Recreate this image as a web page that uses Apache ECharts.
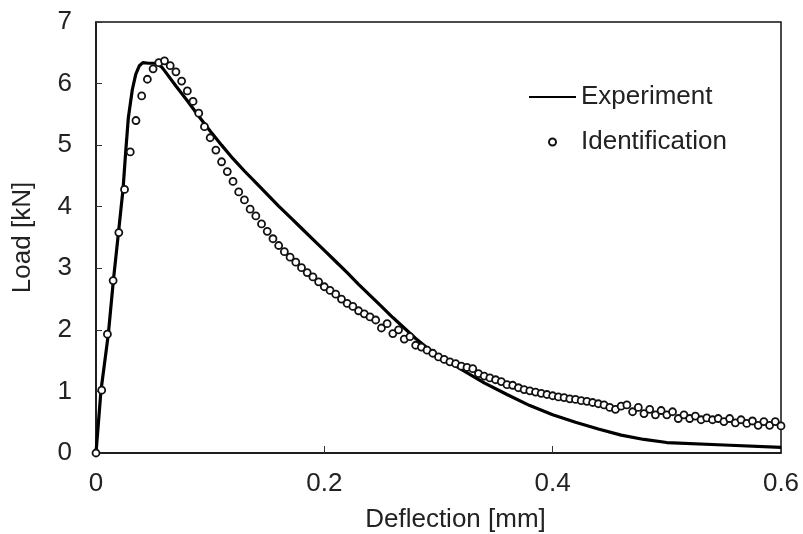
<!DOCTYPE html>
<html>
<head>
<meta charset="utf-8">
<script src="https://cdn.jsdelivr.net/npm/echarts@6/dist/echarts.min.js"></script>
<style>html,body{margin:0;padding:0;background:#fff;}#c{width:803px;height:534px;}</style>
</head>
<body>
<div id="c"></div>
<script>
// Experiment curve (deflection mm, load kN)
const expX = [0, 0.0044, 0.0108, 0.0152, 0.0198, 0.0237, 0.026, 0.0283, 0.0318, 0.0348, 0.038, 0.041, 0.046, 0.052, 0.0575, 0.06, 0.07, 0.08, 0.09,
  0.1, 0.11, 0.12, 0.13, 0.14, 0.15, 0.16, 0.17, 0.18, 0.19, 0.2, 0.21, 0.22, 0.23, 0.24, 0.25, 0.26, 0.27, 0.28, 0.29,
  0.3, 0.31, 0.32, 0.33, 0.34, 0.36, 0.38, 0.4, 0.42, 0.44, 0.46, 0.48, 0.5, 0.55, 0.6];
const expY = [0, 1.02, 1.93, 2.8, 3.6, 4.29, 4.89, 5.44, 5.9, 6.15, 6.29, 6.34, 6.33, 6.33, 6.27, 6.21, 5.96, 5.72, 5.47,
  5.23, 5.0, 4.78, 4.58, 4.39, 4.2, 4.01, 3.83, 3.65, 3.47, 3.29, 3.11, 2.93, 2.74, 2.56, 2.38, 2.2, 2.03, 1.86, 1.71,
  1.58, 1.47, 1.36, 1.25, 1.14, 0.95, 0.77, 0.62, 0.5, 0.39, 0.29, 0.22, 0.17, 0.13, 0.09];

// Identification points
const idX = [0, 0.005, 0.01, 0.015, 0.02, 0.025, 0.03, 0.035, 0.04, 0.045, 0.05, 0.055, 0.06, 0.065, 0.07, 0.075, 0.08, 0.085, 0.09, 0.095,
  0.1, 0.105, 0.11, 0.115, 0.12, 0.125, 0.13, 0.135, 0.14, 0.145, 0.15, 0.155, 0.16, 0.165, 0.17, 0.175, 0.18, 0.185, 0.19, 0.195,
  0.2, 0.205, 0.21, 0.215, 0.22, 0.225, 0.23, 0.235, 0.24, 0.245, 0.25, 0.255, 0.26, 0.265, 0.27, 0.275, 0.28, 0.285, 0.29, 0.295,
  0.3, 0.305, 0.31, 0.315, 0.32, 0.325, 0.33, 0.335, 0.34, 0.345, 0.35, 0.355, 0.36, 0.365, 0.37, 0.375, 0.38, 0.385, 0.39, 0.395,
  0.4, 0.405, 0.41, 0.415, 0.42, 0.425, 0.43, 0.435, 0.44, 0.445, 0.45, 0.455, 0.46, 0.465, 0.47, 0.475, 0.48, 0.485, 0.49, 0.495,
  0.5, 0.505, 0.51, 0.515, 0.52, 0.525, 0.53, 0.535, 0.54, 0.545, 0.55, 0.555, 0.56, 0.565, 0.57, 0.575, 0.58, 0.585, 0.59, 0.595, 0.6];
const idY = [0, 1.02, 1.93, 2.80, 3.58, 4.28, 4.89, 5.40, 5.80, 6.07, 6.24, 6.34, 6.37, 6.29, 6.19, 6.04, 5.88, 5.71, 5.52, 5.30,
  5.12, 4.92, 4.73, 4.57, 4.41, 4.24, 4.11, 3.96, 3.85, 3.72, 3.60, 3.48, 3.37, 3.27, 3.18, 3.10, 3.01, 2.93, 2.86, 2.78,
  2.70, 2.64, 2.58, 2.50, 2.43, 2.38, 2.31, 2.26, 2.21, 2.16, 2.03, 2.10, 1.94, 2.00, 1.85, 1.89, 1.75, 1.72, 1.67, 1.62,
  1.56, 1.52, 1.48, 1.45, 1.41, 1.39, 1.37, 1.29, 1.25, 1.22, 1.19, 1.16, 1.11, 1.10, 1.06, 1.03, 1.01, 0.99, 0.97, 0.95,
  0.93, 0.91, 0.90, 0.88, 0.87, 0.85, 0.84, 0.82, 0.80, 0.78, 0.74, 0.71, 0.76, 0.78, 0.67, 0.74, 0.64, 0.71, 0.62, 0.69,
  0.62, 0.67, 0.56, 0.62, 0.56, 0.60, 0.54, 0.57, 0.54, 0.56, 0.51, 0.56, 0.49, 0.54, 0.48, 0.52, 0.45, 0.51, 0.45, 0.51, 0.44];

const xTicks = [0, 0.2, 0.4, 0.6];
const yTicks = [0, 1, 2, 3, 4, 5, 6, 7];

const FONT = 'Liberation Sans, Arial, sans-serif';
const TXT = '#222';

const chart = echarts.init(document.getElementById('c'), null, {renderer: 'canvas'});
chart.setOption({
  animation: false,
  backgroundColor: '#fff',
  grid: {left: 96, right: 22, top: 22, bottom: 81, containLabel: false, outerBoundsMode: 'none',
    show: true, borderColor: '#111', borderWidth: 1.5, backgroundColor: 'transparent'},
  legend: {
    orient: 'vertical', left: 523, top: 79, itemWidth: 47, itemHeight: 7, itemGap: 19,
    textStyle: {fontFamily: FONT, fontSize: 26, color: TXT},
    data: [
      {name: 'Experiment', itemStyle: {opacity: 0}},
      {name: 'Identification'}
    ]
  },
  xAxis: {
    type: 'value', min: xTicks[0], max: xTicks[xTicks.length - 1], interval: 0.2,
    name: 'Deflection [mm]', nameLocation: 'middle', nameGap: 54,
    nameTextStyle: {fontFamily: FONT, fontSize: 26, color: TXT, padding: [0, 0, 0, 34]},
    axisLine: {show: true, onZero: false, lineStyle: {color: '#111', width: 1.5}},
    axisTick: {show: true, inside: true, length: 7, lineStyle: {color: '#333', width: 1}},
    axisLabel: {fontFamily: FONT, fontSize: 26, color: TXT, margin: 18},
    splitLine: {show: false}
  },
  yAxis: {
    type: 'value', min: yTicks[0], max: yTicks[yTicks.length - 1], interval: 1,
    name: 'Load [kN]', nameLocation: 'middle', nameGap: 60, nameRotate: 90,
    nameTextStyle: {fontFamily: FONT, fontSize: 26, color: TXT},
    axisLine: {show: true, lineStyle: {color: '#111', width: 1.5}},
    axisTick: {show: true, inside: true, length: 6, lineStyle: {color: '#333', width: 1}},
    axisLabel: {fontFamily: FONT, fontSize: 26, color: TXT, margin: 24},
    splitLine: {show: false}
  },
  series: [
    {
      name: 'Experiment', type: 'line', showSymbol: false, symbol: 'none', smooth: false,
      lineStyle: {color: '#000', width: 3.2}, itemStyle: {color: '#000'},
      data: expX.map((x, i) => [x, expY[i]]), z: 2
    },
    {
      name: 'Identification', type: 'scatter', symbol: 'circle', symbolSize: 7,
      itemStyle: {color: '#fff', borderColor: '#111', borderWidth: 1.8, opacity: 1},
      data: idX.map((x, i) => [x, idY[i]]), z: 3
    }
  ]
});
</script>
</body>
</html>
